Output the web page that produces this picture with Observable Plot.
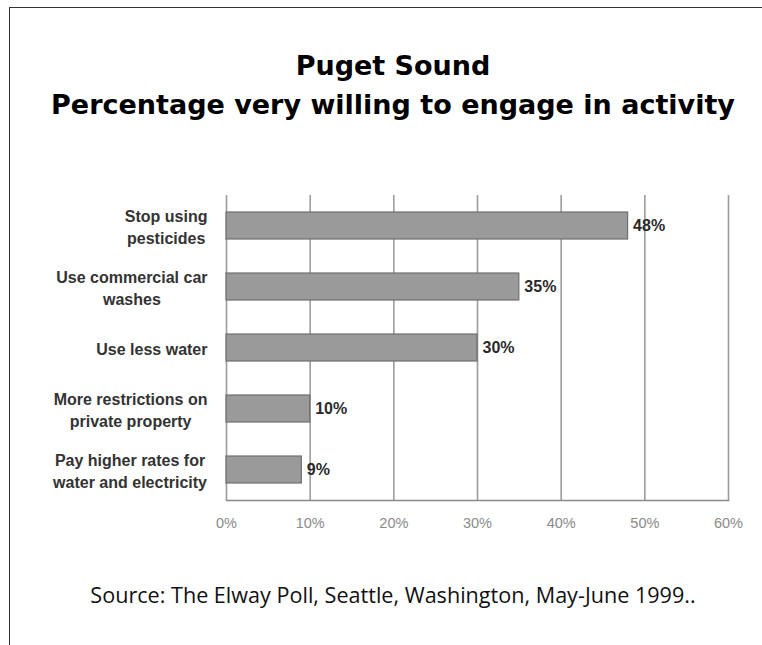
<!DOCTYPE html>
<html>
<head>
<meta charset="utf-8">
<script src="https://cdn.jsdelivr.net/npm/d3@7"></script>
<script src="https://cdn.jsdelivr.net/npm/@observablehq/plot@0.6"></script>
<style>
  html, body { margin: 0; padding: 0; background: #fff; }
  #wrap { position: relative; width: 762px; height: 645px; overflow: hidden; background: #fff; }
  #frame { position: absolute; left: 9px; top: 7px; right: -2px; bottom: -2px; border-top: 1px solid #333; border-left: 1px solid #333; }
  .title { position: absolute; left: 12px; width: 762px; text-align: center; font-family: "DejaVu Sans", sans-serif; font-weight: bold; font-size: 27px; color: #000; line-height: 30px; white-space: nowrap; }
  #t1 { top: 51px; }
  #t2 { top: 90px; }
  #chart { position: absolute; left: 0; top: 150px; }
  #source { position: absolute; left: 12px; width: 762px; top: 580px; text-align: center; font-family: "Open Sans", sans-serif; font-size: 21.6px; line-height: 30px; color: #111; white-space: nowrap; }
</style>
</head>
<body>
<div id="wrap">
  <div id="frame"></div>
  <div class="title" id="t1">Puget Sound</div>
  <div class="title" id="t2">Percentage very willing to engage in activity</div>
  <div id="chart"></div>
  <div id="source">Source: The Elway Poll, Seattle, Washington, May-June 1999..</div>
</div>
<script>
const categories = [
  "Stop using\npesticides",
  "Use commercial car\nwashes",
  "Use less water",
  "More restrictions on\nprivate property",
  "Pay higher rates for\nwater and electricity"
];
const values = [48, 35, 30, 10, 9];
const xTicks = [0, 10, 20, 30, 40, 50, 60];

const data = categories.map((c, i) => ({category: c, value: values[i]}));

const plot = Plot.plot({
  width: 762,
  height: 400,
  marginTop: 45,
  marginBottom: 50,
  marginLeft: 226,
  marginRight: 34,
  style: {background: "transparent"},
  x: {domain: [0, 60], ticks: xTicks, axis: null},
  y: {domain: categories, paddingInner: 0.56, paddingOuter: 0.28, axis: null},
  marks: [
    Plot.ruleX(xTicks, {stroke: "#9c9c9c", strokeWidth: 1.6}),
    Plot.frame({anchor: "bottom", stroke: "#8a8a8a", strokeWidth: 1.6}),
    Plot.barX(data, {x: "value", y: "category", fill: "#9a9a9a", stroke: "#6f6f6f", strokeWidth: 1.2}),
    Plot.text(data, {x: "value", y: "category", text: d => d.value + "%", dx: 5, textAnchor: "start",
      fontFamily: "Liberation Sans, Arial, sans-serif", fontWeight: "bold", fontSize: 16, fill: "#2a2a2a"}),
    Plot.text(xTicks, {x: d => d, frameAnchor: "bottom", dy: 27, text: d => d + "%",
      fontFamily: "Liberation Sans, Arial, sans-serif", fontSize: 14.5, fill: "#8a8a8a"}),
    Plot.text(data, {y: "category", frameAnchor: "left", dx: -19, text: "category", textAnchor: "middle",
      lineHeight: 1.4, fontFamily: "Liberation Sans, Arial, sans-serif", fontWeight: "bold", fontSize: 16, fill: "#333"})
  ]
});
document.getElementById("chart").appendChild(plot);

// right-align each multi-line category label block while keeping its lines centred
const flat = new Set(categories.map(c => c.replace("\n", "")));
plot.querySelectorAll("text").forEach(t => {
  if (!flat.has(t.textContent)) return;
  const w = t.getBBox().width;
  const tr = t.getAttribute("transform") || "";
  t.setAttribute("transform", tr + ` translate(${-w / 2},0)`);
});
</script>
</body>
</html>
